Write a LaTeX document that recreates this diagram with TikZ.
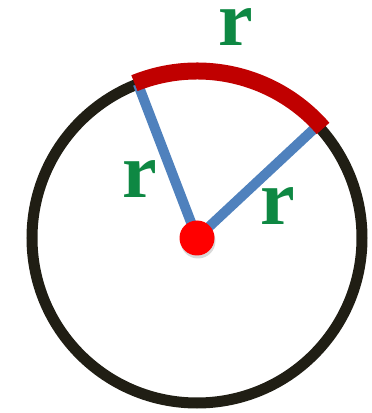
\documentclass[tikz,border=0pt]{standalone}
\usepackage{fontspec}
\setmainfont{Liberation Serif}
\usetikzlibrary{calc, shadows}
\definecolor{rimblack}{RGB}{32,30,20}
\definecolor{radblue}{RGB}{79,129,189}
\definecolor{arcred}{RGB}{192,0,0}
\definecolor{lblgreen}{RGB}{14,136,67}
\begin{document}
\begin{tikzpicture}[x = 1pt, y = 1pt,
    radius line/.style = {line width = 10pt, radblue},
    rlabel/.style = {lblgreen, inner sep = 0pt, text height = 36pt,
      text depth = 0pt, font = \fontsize{78}{78}\selectfont\bfseries}]
  \useasboundingbox (0,0) rectangle (372,413);
  % circle, radii and the arc of length r
  \coordinate (O) at (197,175);
  \draw [rimblack, line width = 11pt] (O) circle (165);
  \coordinate (A) at ($(O) + (111:165)$);
  \coordinate (B) at ($(O) + (43:165)$);
  \draw [radius line] (O) -- (A);
  \draw [radius line] (O) -- (B);
  \draw [arcred, line width = 17pt] ($(O) + (41:167)$) arc (41:112:167);
  \node [circle, fill = red, minimum size = 35pt, inner sep = 0pt,
    drop shadow = {opacity = .3, shadow xshift = 1pt, shadow yshift = -3pt}]
    (dot) at (O) {};
  \node [rlabel] (top r) at (236,385) {r};
  \node [rlabel] (left r) at (140,233) {r};
  \node [rlabel] (right r) at (278,206) {r};
\end{tikzpicture}
\end{document}
